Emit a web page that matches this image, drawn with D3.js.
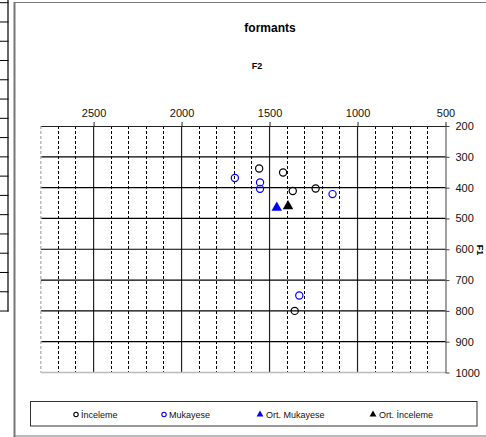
<!DOCTYPE html>
<html><head><meta charset="utf-8">
<script src="https://cdn.jsdelivr.net/npm/d3@7"></script>
<style>body{margin:0;background:#fff;}svg{display:block;font-family:"Liberation Sans",Arial,sans-serif;}</style>
</head><body>
<script>
// Data (F2 = x, F1 = y)
const incelemeF2 = [1559, 1423, 1368, 1238, 1357];
const incelemeF1 = [338, 351, 411, 403, 800];
const mukayeseF2 = [1697, 1554, 1554, 1142, 1331];
const mukayeseF1 = [369, 383, 404, 421, 750];
const ortMukayeseF2 = [1459];
const ortMukayeseF1 = [465];
const ortIncelemeF2 = [1395];
const ortIncelemeF1 = [460];
const xTicks = [2500, 2000, 1500, 1000, 500];
const yTicks = [200, 300, 400, 500, 600, 700, 800, 900, 1000];
const legendLabels = ["İnceleme", "Mukayese", "Ort. Mukayese", "Ort. İnceleme"];

const W = 486, H = 437;
const svg = d3.select("body").append("svg").attr("width", W).attr("height", H);

// left spreadsheet fragment
const tbl = svg.append("g");
const rows = d3.range(17).map(i => 2.7 + i * 19.27);
rows.forEach(y => tbl.append("line").attr("x1", 0).attr("x2", 8.5).attr("y1", y).attr("y2", y).attr("stroke", "#000").attr("stroke-width", 1));
tbl.append("line").attr("x1", 8).attr("x2", 8).attr("y1", 0).attr("y2", 311.5).attr("stroke", "#000").attr("stroke-width", 1.2);

// chart frame
svg.append("line").attr("x1", 14.5).attr("x2", 14.5).attr("y1", 2).attr("y2", 437).attr("stroke", "#777").attr("stroke-width", 2);
svg.append("line").attr("x1", 14).attr("x2", 486).attr("y1", 2.5).attr("y2", 2.5).attr("stroke", "#777").attr("stroke-width", 1.2);
svg.append("line").attr("x1", 14).attr("x2", 486).attr("y1", 436).attr("y2", 436).attr("stroke", "#777").attr("stroke-width", 1.2);

const x = d3.scaleLinear().domain([2800, 500]).range([40.8, 445.5]);
const y = d3.scaleLinear().domain([200, 1000]).range([126, 372.5]);

// grid
const minor = d3.range(2700, 500, -100).filter(v => v % 500 !== 0);
const g = svg.append("g");
minor.forEach(v => g.append("line").attr("x1", x(v)).attr("x2", x(v)).attr("y1", y(200)).attr("y2", y(1000))
  .attr("stroke", "#000").attr("stroke-width", 1).attr("stroke-dasharray", "3,2").attr("shape-rendering", "crispEdges"));
[2500, 2000, 1500, 1000].forEach(v => g.append("line").attr("x1", x(v)).attr("x2", x(v)).attr("y1", y(200)).attr("y2", y(1000))
  .attr("stroke", "#222").attr("stroke-width", 1.2));
d3.range(300, 1000, 100).forEach(v => g.append("line").attr("x1", x(2800)).attr("x2", x(500)).attr("y1", y(v)).attr("y2", y(v))
  .attr("stroke", "#000").attr("stroke-width", 1.2));
// left dashed gray edge and bottom gray edge
g.append("line").attr("x1", x(2800)).attr("x2", x(2800)).attr("y1", y(200)).attr("y2", y(1000))
  .attr("stroke", "#bbb").attr("stroke-width", 1.5).attr("stroke-dasharray", "3,2");
g.append("line").attr("x1", x(2800)).attr("x2", x(500)).attr("y1", y(1000)).attr("y2", y(1000))
  .attr("stroke", "#bbb").attr("stroke-width", 1.5);

// top axis
const xAxis = d3.axisTop(x).tickValues(xTicks).tickSize(4).tickSizeOuter(0).tickPadding(5).tickFormat(d3.format("d"));
const gx = svg.append("g").attr("transform", `translate(0,${y(200)})`).call(xAxis);
gx.select(".domain").attr("stroke", "#222").attr("stroke-width", 1.2);
gx.selectAll(".tick line").attr("stroke", "#222");
gx.selectAll("text").attr("font-size", 11).attr("fill", "#111").attr("font-family", "Liberation Sans, Arial, sans-serif");

// right axis
const yAxis = d3.axisRight(y).tickValues(yTicks).tickSize(4).tickSizeOuter(0).tickPadding(6).tickFormat(d3.format("d"));
const gy = svg.append("g").attr("transform", `translate(${x(500)},0)`).call(yAxis);
gy.select(".domain").attr("stroke", "#444").attr("stroke-width", 1);
gy.selectAll(".tick line").attr("stroke", "#444");
gy.selectAll("text").attr("font-size", 11).attr("fill", "#111").attr("font-family", "Liberation Sans, Arial, sans-serif");

// titles
svg.append("text").attr("x", 270).attr("y", 32).attr("text-anchor", "middle").attr("font-size", 12).attr("font-weight", "bold").text("formants");
svg.append("text").attr("x", 257).attr("y", 69).attr("text-anchor", "middle").attr("font-size", 9).attr("font-weight", "bold").text("F2");
svg.append("text").attr("transform", "translate(477,250) rotate(90)").attr("text-anchor", "middle").attr("font-size", 9).attr("font-weight", "bold").text("F1");

// marks
const circles = (xs, ys, color) => svg.append("g").selectAll("circle").data(xs.map((v, i) => [v, ys[i]])).join("circle")
  .attr("cx", d => x(d[0])).attr("cy", d => y(d[1])).attr("r", 3.6).attr("fill", "none").attr("stroke", color).attr("stroke-width", 1.2);
circles(incelemeF2, incelemeF1, "#000");
circles(mukayeseF2, mukayeseF1, "#0000ff");
const tri = d3.symbol().type(d3.symbolTriangle).size(48);
const tris = (xs, ys, color) => svg.append("g").selectAll("path").data(xs.map((v, i) => [v, ys[i]])).join("path")
  .attr("d", tri).attr("transform", d => `translate(${x(d[0])},${y(d[1])})`).attr("fill", color);
tris(ortMukayeseF2, ortMukayeseF1, "#0000ff");
tris(ortIncelemeF2, ortIncelemeF1, "#000");

// legend
svg.append("rect").attr("x", 30.5).attr("y", 401.5).attr("width", 446.5).attr("height", 24.5).attr("fill", "none").attr("stroke", "#333").attr("stroke-width", 1);
const lg = [
  {label: legendLabels[0], mx: 76, tx: 81, type: "c", color: "#000"},
  {label: legendLabels[1], mx: 164, tx: 169, type: "c", color: "#0000ff"},
  {label: legendLabels[2], mx: 260, tx: 266, type: "t", color: "#0000ff"},
  {label: legendLabels[3], mx: 373, tx: 379, type: "t", color: "#000"}
];
lg.forEach(d => {
  if (d.type === "c") svg.append("circle").attr("cx", d.mx).attr("cy", 414.5).attr("r", 2.2).attr("fill", "none").attr("stroke", d.color).attr("stroke-width", 1.1);
  else svg.append("path").attr("d", d3.symbol().type(d3.symbolTriangle).size(20)).attr("transform", `translate(${d.mx},414.5)`).attr("fill", d.color);
  svg.append("text").attr("x", d.tx).attr("y", 418).attr("font-size", 9).attr("fill", "#111").text(d.label);
});
</script>
</body></html>
